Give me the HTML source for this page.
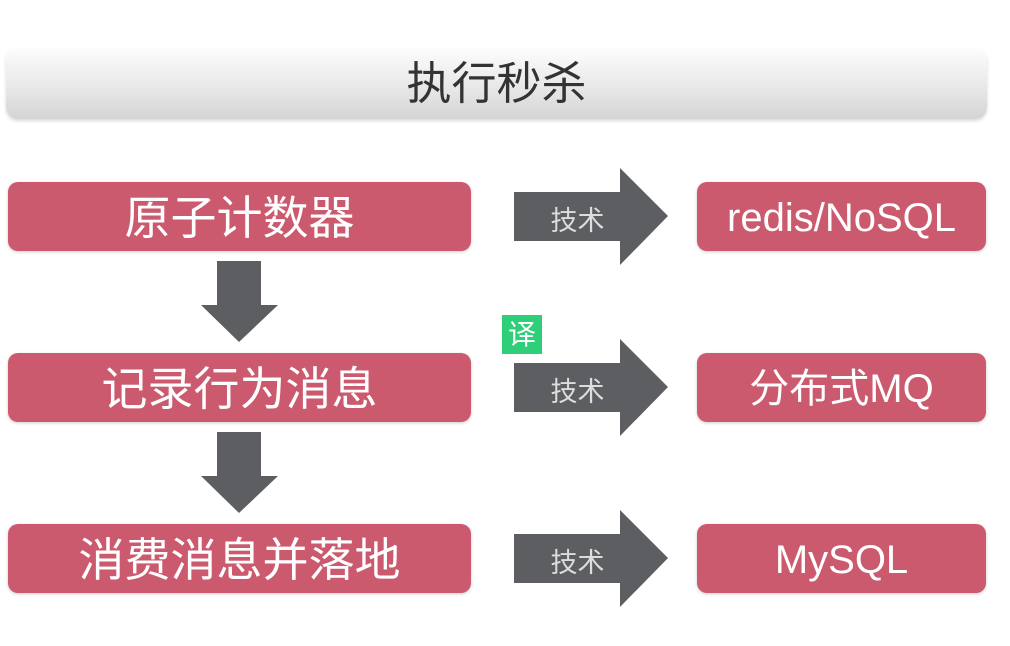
<!DOCTYPE html>
<html><head><meta charset="utf-8"><style>
body{margin:0;width:1010px;height:646px;background:#fff;position:relative;overflow:hidden;font-family:"Liberation Sans","Noto Sans CJK SC",sans-serif}
.hdr{position:absolute;left:6px;top:48px;width:981px;height:71px;border-radius:12px;background:linear-gradient(#fdfdfd,#e6e6e6 60%,#d4d4d4);box-shadow:0 2px 3px rgba(0,0,0,.15);text-align:center;line-height:71px;font-size:45px;color:#333}
.b{position:absolute;height:69px;background:#cc5a6e;border-radius:10px;color:#fff;text-align:center;line-height:72px;font-size:46px;box-shadow:0 1px 3px rgba(0,0,0,.2)}
.l{left:8px;width:463px}.r{left:697px;width:289px;font-size:40px}
.t{position:absolute;left:515px;width:125px;text-align:center;color:#ddd;font-size:27px}
.badge{position:absolute;left:502px;top:315px;width:40px;height:39px;background:#2fcf7a;color:#fff;font-size:28px;text-align:center;line-height:39px}
</style></head><body>
<div class="hdr">执行秒杀</div>
<div class="b l" style="top:182px">原子计数器</div>
<div class="b l" style="top:353px">记录行为消息</div>
<div class="b l" style="top:524px">消费消息并落地</div>
<div class="b r" style="top:182px">redis/NoSQL</div>
<div class="b r" style="top:353px">分布式MQ</div>
<div class="b r" style="top:524px">MySQL</div>
<svg width="1010" height="646" style="position:absolute;left:0;top:0" fill="#5c5e62">
<polygon points="217,261 261,261 261,305 278,305 239,342 201,305 217,305"/>
<polygon points="217,432 261,432 261,476 278,476 239,513 201,476 217,476"/>
<polygon points="514,192 620,192 620,168 668,216 620,265 620,241 514,241"/>
<polygon points="514,363 620,363 620,339 668,387 620,436 620,412 514,412"/>
<polygon points="514,534 620,534 620,510 668,558 620,607 620,583 514,583"/>
</svg>
<div class="t" style="top:199px">技术</div>
<div class="t" style="top:370px">技术</div>
<div class="t" style="top:541px">技术</div>
<div class="badge">译</div>
</body></html>
